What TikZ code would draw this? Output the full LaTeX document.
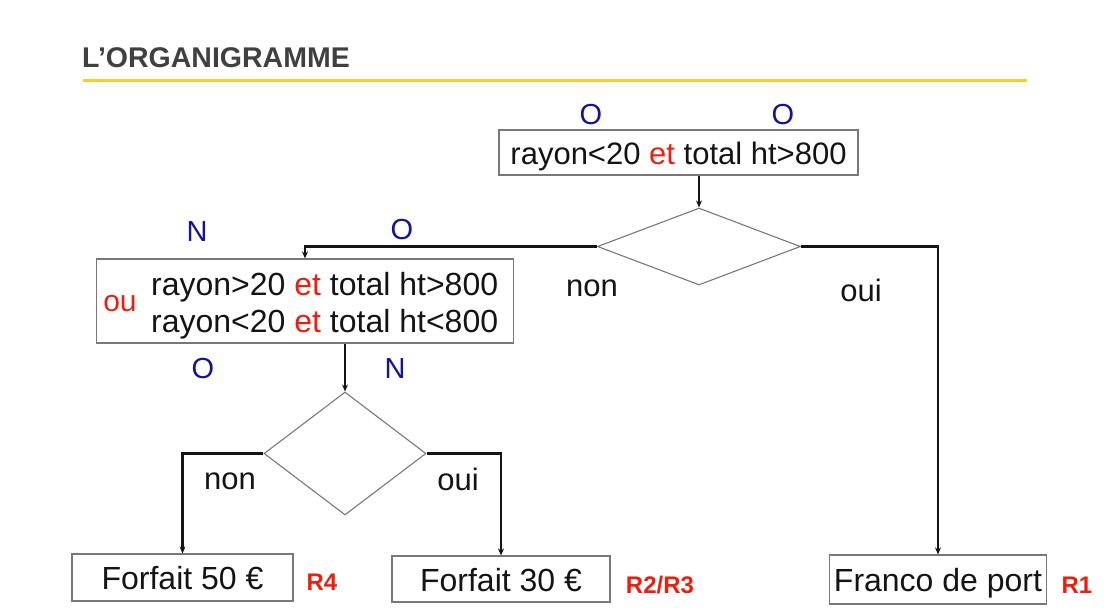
\documentclass[tikz,border=0pt]{standalone}
\usepackage{fontspec}
\setmainfont{Liberation Sans}
\usetikzlibrary{shapes.geometric,arrows.meta}
\definecolor{lblue}{RGB}{20,20,150}
\definecolor{lred}{RGB}{235,30,15}
\definecolor{ttl}{RGB}{64,64,64}
\definecolor{gold}{RGB}{245,208,40}
\definecolor{bord}{RGB}{120,120,120}
\definecolor{ink}{RGB}{20,20,20}
\tikzset{
  box/.style={draw=bord, line width=1.2pt, inner sep=0pt, text=ink, text height=30pt, text depth=6pt, font=\fontsize{32}{36}\selectfont},
  dia/.style={draw=bord, line width=1.1pt, shape=diamond, inner sep=0pt},
  conn/.style={draw=ink, line width=2.2pt, -{Stealth[length=7pt,width=6pt]}},
  lab/.style={text=lblue, font=\fontsize{29}{34}\selectfont, inner sep=0pt},
  txt/.style={text=ink, font=\fontsize{31}{36}\selectfont, inner sep=0pt},
  rule/.style={text=lred, font=\bfseries\fontsize{24}{27}\selectfont, inner sep=0pt},
}
\begin{document}
\begin{tikzpicture}[x=1pt,y=-1pt]
\useasboundingbox (0,0) rectangle (1104,614);
% title
\node[anchor=west, inner sep=0pt, text=ttl, font=\bfseries\fontsize{28.5}{32}\selectfont] (title) at (82,58) {L’ORGANIGRAMME};
\draw[gold, line width=3pt] (83,80) -- (1027,80);

% boxes
\node[box, font=\fontsize{31}{36}\selectfont, minimum width=359pt, minimum height=45pt] (b1) at (678.5,152.5) {rayon<20 \textcolor{lred}{et} total ht>800};
\node[box, minimum width=417pt, minimum height=84pt] (b2) at (305,301) {};
\node[txt, font=\fontsize{32}{36}\selectfont, anchor=west] (l1) at (151,287) {rayon>20 \textcolor{lred}{et} total ht>800};
\node[txt, font=\fontsize{32}{36}\selectfont, anchor=west] (l2) at (151,324) {rayon<20 \textcolor{lred}{et} total ht<800};
\node[text=lred, font=\fontsize{30}{34}\selectfont, inner sep=0pt] (ou) at (120,304) {ou};

\node[box, minimum width=221pt, minimum height=47pt] (f50) at (182.5,577.5) {Forfait 50 €};
\node[box, minimum width=218pt, minimum height=46pt] (f30) at (501,579) {Forfait 30 €};
\node[box, minimum width=217pt, minimum height=49pt] (fr) at (938,579.5) {Franco de port};

% diamonds
\node[dia, minimum width=203pt, minimum height=77pt] (d1) at (699,246.5) {};
\node[dia, minimum width=162pt, minimum height=123pt] (d2) at (345,453.5) {};

% connectors
\draw[conn] (d1.north |- b1.south) -- (d1.north);
\draw[conn] (d1.west) -| (b2.north);
\draw[conn] (d1.east) -| (fr.north);
\draw[conn] (d2.north |- b2.south) -- (d2.north);
\draw[conn] (d2.west) -| (f50.north);
\draw[conn] (d2.east) -| (f30.north);

% labels
\node[lab] (o1) at (591,115) {O};
\node[lab] (o2) at (783,115) {O};
\node[lab] (n1) at (197,232) {N};
\node[lab] (o3) at (402,230) {O};
\node[lab] (o4) at (203,369) {O};
\node[lab] (n2) at (395,369) {N};
\node[txt] (non1) at (592,288) {non};
\node[txt] (oui1) at (861,290) {oui};
\node[txt] (non2) at (230,481) {non};
\node[txt] (oui2) at (458,479) {oui};

\node[rule] (r4) at (322,582) {R4};
\node[rule] (r23) at (660,585) {R2/R3};
\node[rule] (r1) at (1077,585) {R1};
\end{tikzpicture}
\end{document}
